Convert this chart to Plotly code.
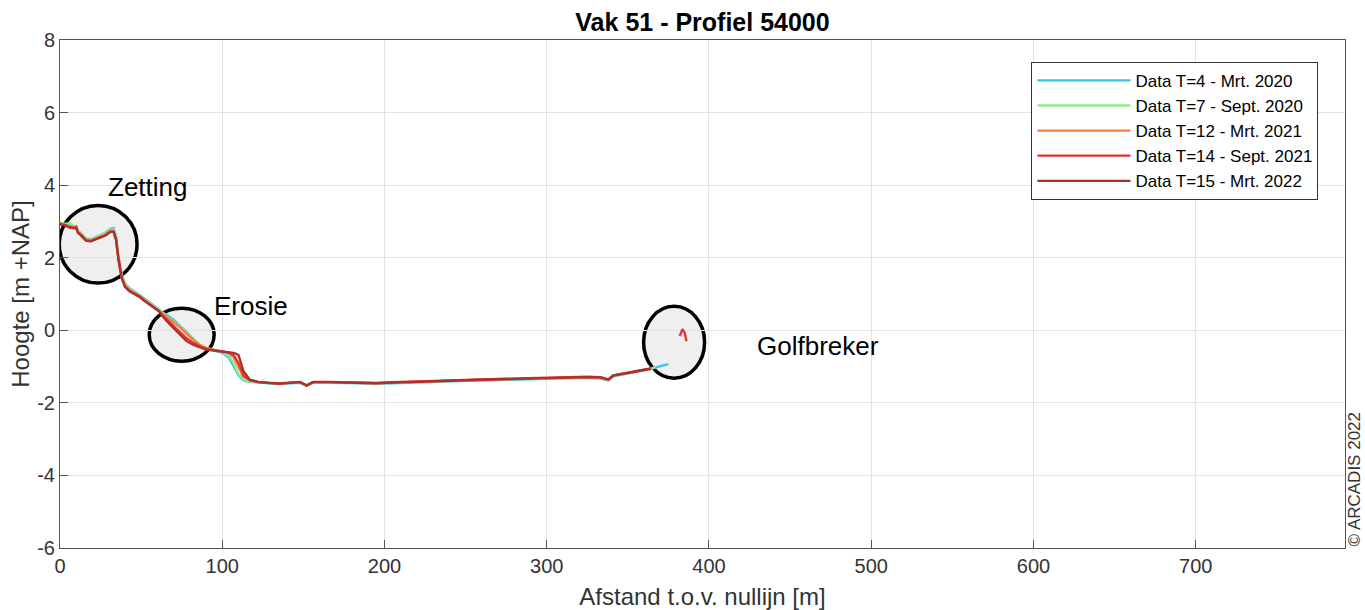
import plotly.graph_objects as go

# ---------------- data ----------------
X = [0, 3, 6, 9, 10, 11, 13, 16, 19, 22, 25, 28, 31, 33, 34.5,
     36, 38, 40, 43, 46, 49, 52, 55, 58, 61, 63, 66, 70, 74, 78,
     82, 86, 90, 95, 100, 104, 107, 110, 113, 117, 122, 128, 135, 142, 148,
     152, 156, 165, 175, 185, 195, 205, 215, 225, 240, 255, 270, 285, 300, 315,
     325, 333, 338, 341, 349, 357, 364]

Y_T4 = [2.96, 2.93, 2.88, 2.86, 2.87, 2.75, 2.67, 2.53, 2.51, 2.57, 2.62, 2.69, 2.80, 2.82, 2.60,
        2.06, 1.55, 1.30, 1.16, 1.07, 0.99, 0.88, 0.78, 0.67, 0.57, 0.50, 0.42, 0.29, 0.12, -0.04,
        -0.24, -0.40, -0.50, -0.56, -0.62, -0.75, -0.98, -1.24, -1.38, -1.42, -1.44, -1.46, -1.48, -1.46, -1.45,
        -1.51, -1.45, -1.45, -1.46, -1.48, -1.47, -1.46, -1.45, -1.43, -1.42, -1.39, -1.37, -1.35, -1.33, -1.32,
        -1.31, -1.33, -1.38, -1.27, -1.20, -1.12, -1.07]
X_T4_TAIL = [370, 375]
Y_T4_TAIL = [-0.99, -0.93]

Y_T7 = [2.97, 2.93, 2.96, 2.85, 2.86, 2.74, 2.65, 2.52, 2.50, 2.56, 2.60, 2.67, 2.77, 2.78, 2.58,
        2.04, 1.52, 1.28, 1.14, 1.05, 0.97, 0.86, 0.76, 0.66, 0.56, 0.48, 0.38, 0.24, 0.10, -0.07,
        -0.24, -0.39, -0.48, -0.55, -0.60, -0.70, -0.90, -1.20, -1.36, -1.41, -1.43, -1.45, -1.47, -1.45, -1.44,
        -1.50, -1.44, -1.44, -1.45, -1.47, -1.46, -1.45, -1.44, -1.42, -1.41, -1.38, -1.36, -1.34, -1.32, -1.31,
        -1.30, -1.31, -1.37, -1.26, -1.19, -1.11, -1.06]
X_T7_TAIL = [367]
Y_T7_TAIL = [-1.01]

Y_T12 = [2.95, 2.92, 2.86, 2.84, 2.86, 2.72, 2.64, 2.50, 2.48, 2.54, 2.58, 2.64, 2.74, 2.74, 2.55,
         2.00, 1.48, 1.24, 1.10, 1.02, 0.95, 0.84, 0.74, 0.64, 0.55, 0.46, 0.36, 0.22, 0.08, -0.10,
         -0.26, -0.40, -0.49, -0.54, -0.58, -0.63, -0.75, -1.02, -1.28, -1.38, -1.42, -1.44, -1.46, -1.44, -1.43,
         -1.52, -1.43, -1.43, -1.44, -1.46, -1.46, -1.44, -1.43, -1.41, -1.40, -1.37, -1.35, -1.33, -1.31, -1.30,
         -1.29, -1.30, -1.36, -1.25, -1.18, -1.11, -1.06]

Y_T14 = [2.93, 2.90, 2.84, 2.82, 2.84, 2.70, 2.62, 2.48, 2.46, 2.52, 2.56, 2.62, 2.72, 2.72, 2.52,
         1.97, 1.45, 1.21, 1.08, 1.00, 0.93, 0.82, 0.72, 0.62, 0.53, 0.42, 0.29, 0.13, -0.05, -0.22,
         -0.34, -0.44, -0.51, -0.55, -0.58, -0.61, -0.68, -0.90, -1.24, -1.37, -1.43, -1.45, -1.47, -1.44, -1.42,
         -1.53, -1.42, -1.42, -1.43, -1.45, -1.45, -1.43, -1.42, -1.40, -1.39, -1.36, -1.34, -1.32, -1.30, -1.29,
         -1.28, -1.29, -1.35, -1.24, -1.17, -1.10, -1.05]
X_T14_GOLF = [382.0, 383.6, 385.1, 386.1]
Y_T14_GOLF = [-0.16, 0.03, -0.08, -0.30]

Y_T15 = [2.92, 2.89, 2.83, 2.81, 2.83, 2.69, 2.61, 2.47, 2.45, 2.51, 2.55, 2.61, 2.71, 2.71, 2.50,
         1.95, 1.44, 1.20, 1.07, 0.99, 0.92, 0.81, 0.71, 0.61, 0.52, 0.40, 0.24, 0.06, -0.12, -0.30,
         -0.40, -0.47, -0.53, -0.56, -0.58, -0.60, -0.62, -0.68, -1.12, -1.36, -1.42, -1.45, -1.47, -1.45, -1.43,
         -1.52, -1.43, -1.43, -1.44, -1.46, -1.46, -1.44, -1.43, -1.41, -1.40, -1.37, -1.35, -1.33, -1.31, -1.30,
         -1.29, -1.30, -1.36, -1.25, -1.18, -1.11, -1.06]

SERIES_NAMES = ["Data T=4 - Mrt. 2020", "Data T=7 - Sept. 2020", "Data T=12 - Mrt. 2021",
                "Data T=14 - Sept. 2021", "Data T=15 - Mrt. 2022"]
SERIES_COLORS = ["#35c6f0", "#8aee8a", "#ff7a3a", "#e0342c", "#ad3030"]

X_TICKS = [0, 100, 200, 300, 400, 500, 600, 700]
X_TICKTEXT = ["0", "100", "200", "300", "400", "500", "600", "700"]
Y_TICKS = [-6, -4, -2, 0, 2, 4, 6, 8]
Y_TICKTEXT = ["-6", "-4", "-2", "0", "2", "4", "6", "8"]

# annotation ellipses (data coordinates: center x, center y, radius x, radius y)
ELLIPSES = [(23.5, 2.37, 24.0, 1.07), (75.0, -0.12, 20.0, 0.73), (378.5, -0.33, 18.8, 0.99)]
LABELS = [("Zetting", 54.0, 3.94), ("Erosie", 118.0, 0.66), ("Golfbreker", 467.0, -0.44)]

# ---------------- figure ----------------
FONT = "Liberation Sans, Arial, sans-serif"
fig = go.Figure()

xs = [X + X_T4_TAIL, X + X_T7_TAIL, X, X + [None] + X_T14_GOLF, X]
ys = [Y_T4 + Y_T4_TAIL, Y_T7 + Y_T7_TAIL, Y_T12, Y_T14 + [None] + Y_T14_GOLF, Y_T15]

for name, color, xv, yv in zip(SERIES_NAMES, SERIES_COLORS, xs, ys):
    fig.add_trace(go.Scatter(x=xv, y=yv, mode="lines", name=name,
                             line=dict(color=color, width=2.3), connectgaps=False))

for cx, cy, rx, ry in ELLIPSES:
    fig.add_shape(type="circle", xref="x", yref="y",
                  x0=cx - rx, x1=cx + rx, y0=cy - ry, y1=cy + ry,
                  line=dict(color="black", width=3.5), fillcolor="#efefef", layer="below")

for txt, ax, ay in LABELS:
    fig.add_annotation(x=ax, y=ay, xref="x", yref="y", text=txt, showarrow=False,
                       font=dict(family=FONT, size=26, color="black"))

fig.add_annotation(x=(1354 - 60) / 1285, y=0.135, xref="paper", yref="paper",
                   xanchor="center", yanchor="middle", text="© ARCADIS 2022",
                   textangle=-90, showarrow=False, font=dict(family=FONT, size=17, color="#333"))

axis_common = dict(showgrid=True, gridcolor="#e3e3e3", gridwidth=1, zeroline=False,
                   showline=True, linecolor="#555", linewidth=1, mirror=True,
                   ticks="inside", ticklen=8, tickcolor="#555", automargin=False,
                   tickfont=dict(family=FONT, size=20, color="#333"))

fig.update_layout(
    width=1365, height=610,
    margin=dict(l=60, r=20, t=40, b=62),
    paper_bgcolor="white", plot_bgcolor="white",
    title=dict(text="<b>Vak 51 - Profiel 54000</b>", x=0.5, xref="paper",
               y=(610 - 22) / 610, yref="container", yanchor="middle", xanchor="center",
               font=dict(family=FONT, size=25, color="black")),
    xaxis=dict(range=[0, 792], tickvals=X_TICKS, ticktext=X_TICKTEXT,
               title=dict(text="Afstand t.o.v. nullijn [m]", standoff=13,
                          font=dict(family=FONT, size=24, color="#333")),
               **axis_common),
    yaxis=dict(range=[-6, 8], tickvals=Y_TICKS, ticktext=Y_TICKTEXT,
               title=dict(text="Hoogte [m +NAP]", standoff=0,
                          font=dict(family=FONT, size=24, color="#333")),
               **axis_common),
    legend=dict(x=0.756, y=0.957, xanchor="left", yanchor="top",
                bgcolor="white", bordercolor="#333", borderwidth=1,
                font=dict(family=FONT, size=17, color="black"), itemwidth=93,
                tracegroupgap=0),
    showlegend=True,
)

fig.write_html("out.html")
